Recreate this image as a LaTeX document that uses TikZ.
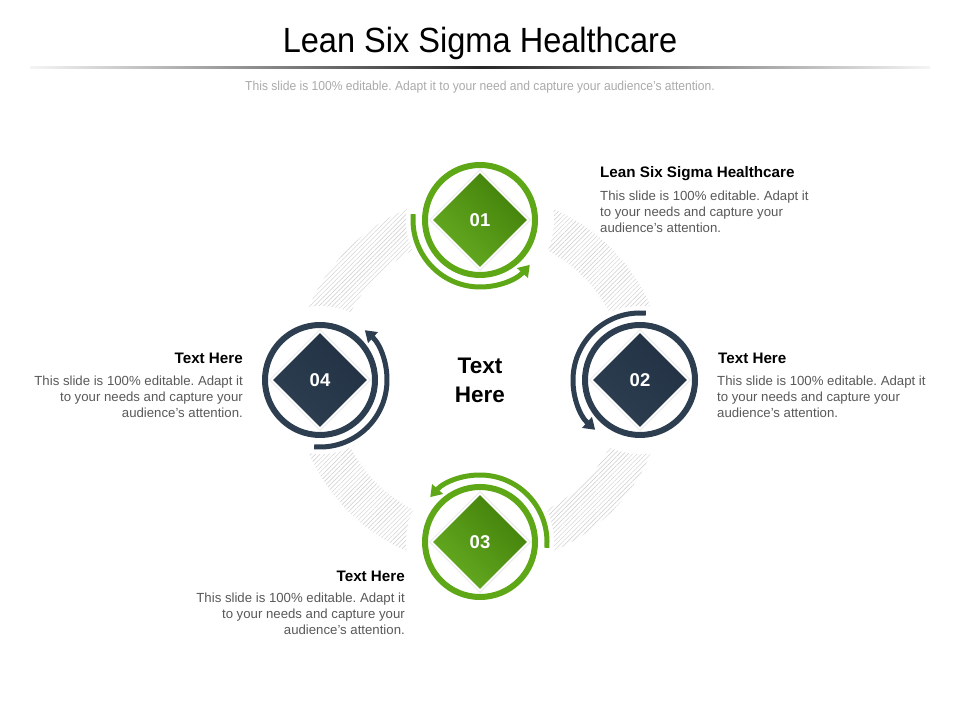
\documentclass[tikz,border=0pt]{standalone}
\usepackage{fontspec}
\setmainfont{Liberation Sans}
\newfontfamily\narrowfont[FakeStretch=0.93]{Liberation Sans}
\usetikzlibrary{shapes.geometric,patterns.meta,arrows.meta,calc}
\frenchspacing
\definecolor{lgreen}{RGB}{94,167,22}
\definecolor{dgreen}{RGB}{66,128,10}
\definecolor{navy}{RGB}{44,62,80}
\definecolor{dnavy}{RGB}{34,50,68}
\definecolor{bodygray}{RGB}{89,89,89}
\definecolor{subgray}{RGB}{170,170,170}
\newcommand{\sq}{{\char"27}}
\tikzset{
  ringnode/.style={circle,minimum size=110pt,inner sep=0pt,fill=white,draw=#1,line width=6pt},
  halo/.style={diamond,aspect=1,minimum width=101pt,minimum height=101pt,inner sep=0pt,fill=white,draw=gray!15,line width=1pt},
  gemgreen/.style={diamond,aspect=1,minimum width=94pt,minimum height=94pt,inner sep=0pt,
     top color=dgreen,bottom color=lgreen!95!white,shading angle=-45,text=white,font=\bfseries\fontsize{18.5}{20}\selectfont},
  gemnavy/.style={diamond,aspect=1,minimum width=94pt,minimum height=94pt,inner sep=0pt,
     top color=dnavy,bottom color=navy,shading angle=-45,text=white,font=\bfseries\fontsize{18.5}{20}\selectfont},
  arcarrow/.style={draw=#1,line width=5pt,-{Triangle[length=11pt,width=14pt]}},
  headtext/.style={font=\bfseries\fontsize{15.2}{16}\selectfont,text=black,inner sep=0pt},
  bodytext/.style={font=\fontsize{13.2}{16}\selectfont,text=bodygray,inner sep=0pt},
}
\begin{document}
\begin{tikzpicture}[x=1pt,y=1pt]
\useasboundingbox (0,0) rectangle (960,720);
\fill[white] (0,0) rectangle (960,720);
% title
\node[font=\narrowfont\fontsize{35}{38}\selectfont,inner sep=0pt] (title) at (480,677) {Lean Six Sigma Healthcare};
\shade[left color=gray!8,right color=black!85] (30,651) rectangle (480,653);
\shade[left color=black!85,right color=gray!8] (480,651) rectangle (930,653);
\node[font=\narrowfont\fontsize{13}{14}\selectfont,text=subgray,inner sep=0pt] (sub) at (480,633) {This slide is 100\% editable. Adapt it to your need and capture your audience’s attention.};
% hatched band
\fill[pattern={Lines[angle=45,distance=3.2pt,line width=0.45pt]},pattern color=gray!40,even odd rule] (480,340) circle (186) (480,340) circle (146);
% white clearings
\foreach \p in {(480,500),(640,340),(480,178),(320,340)} \fill[white] \p circle (74);
% rings
\node[ringnode=lgreen] (c1) at (480,500) {};
\node[ringnode=navy] (c2) at (640,340) {};
\node[ringnode=lgreen] (c3) at (480,178) {};
\node[ringnode=navy] (c4) at (320,340) {};
% arcs
\draw[arcarrow=lgreen] ($(c1.center)+(175:67)$) arc[start angle=175,end angle=318,radius=67];
\draw[arcarrow=navy] ($(c2.center)+(85:67)$) arc[start angle=85,end angle=228,radius=67];
\draw[arcarrow=lgreen] ($(c3.center)+(-5:67)$) arc[start angle=-5,end angle=138,radius=67];
\draw[arcarrow=navy] ($(c4.center)+(-95:67)$) arc[start angle=-95,end angle=48,radius=67];
% diamonds
\node[halo] (h1) at (c1) {};
\node[halo] (h2) at (c2) {};
\node[halo] (h3) at (c3) {};
\node[halo] (h4) at (c4) {};
\node[gemgreen] (d1) at (c1) {01};
\node[gemnavy] (d2) at (c2) {02};
\node[gemgreen] (d3) at (c3) {03};
\node[gemnavy] (d4) at (c4) {04};
% center
\node[font=\bfseries\fontsize{22.5}{29}\selectfont,align=center,inner sep=0pt] (ctr) at (480,340) {Text\\Here};
% text blocks
\node[headtext,anchor=base west] (t1) at (600,542) {Lean Six Sigma Healthcare};
\node[bodytext,anchor=north west,align=left] (b1) at (600,529) {This slide is 100\% editable. Adapt it\\to your needs and capture your\\audience\sq s attention.};
\node[headtext,anchor=base west] (t2) at (718,356) {Text Here};
\node[bodytext,anchor=north west,align=left] (b2) at (717,344) {This slide is 100\% editable. Adapt it\\to your needs and capture your\\audience\sq s attention.};
\node[headtext,anchor=base east] (t4) at (243,356) {Text Here};
\node[bodytext,anchor=north east,align=right] (b4) at (243,344) {This slide is 100\% editable. Adapt it\\to your needs and capture your\\audience\sq s attention.};
\node[headtext,anchor=base east] (t3) at (405,139) {Text Here};
\node[bodytext,anchor=north east,align=right] (b3) at (405,127) {This slide is 100\% editable. Adapt it\\to your needs and capture your\\audience\sq s attention.};
\end{tikzpicture}
\end{document}
